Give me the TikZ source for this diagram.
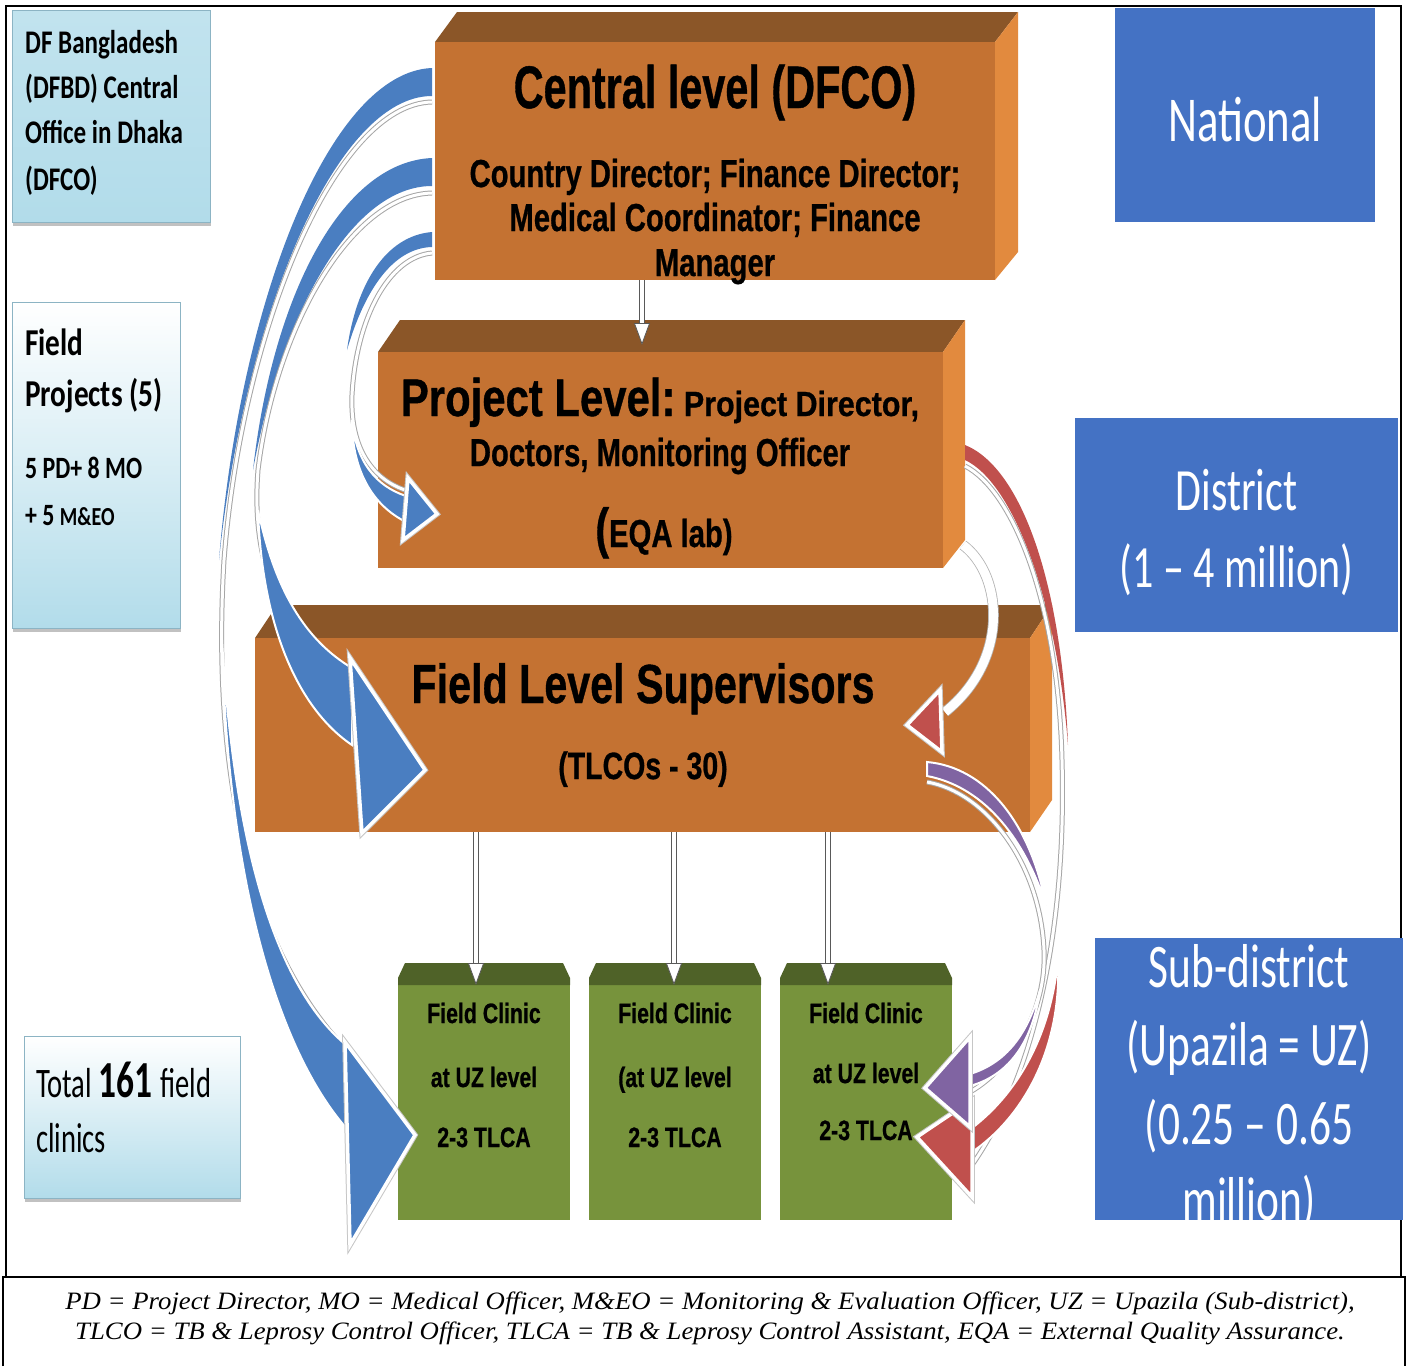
\documentclass[tikz,border=0pt]{standalone}
\usepackage{fontspec}
\setmainfont{Liberation Serif}
\newfontfamily\boxfont[BoldFeatures={FakeBold=0.8}]{Liberation Sans}
\newfontfamily\calfont{Carlito}
\usetikzlibrary{arrows.meta,positioning,shadows}

\definecolor{brickface}{RGB}{196,114,50}
\definecolor{bricktop}{RGB}{139,86,40}
\definecolor{brickside}{RGB}{226,138,62}
\definecolor{clinicface}{RGB}{119,147,60}
\definecolor{clinictop}{RGB}{79,98,40}
\definecolor{levelblue}{RGB}{68,114,196}
\definecolor{noteblue}{RGB}{178,220,234}
\definecolor{noteedge}{RGB}{140,180,196}
\definecolor{ribbonblue}{RGB}{74,126,193}
\definecolor{ribbonred}{RGB}{192,80,77}
\definecolor{ribbonpurple}{RGB}{128,100,162}

\newcommand{\hsq}[2]{\scalebox{#1}[1]{#2}}
\newcommand{\fsz}[1]{\fontsize{#1pt}{#1pt}\selectfont}

\begin{document}
\begin{tikzpicture}[x=1pt, y=-1pt,
    face/.style={fill=brickface, inner sep=0pt},
    clinic/.style={fill=clinicface, inner sep=0pt, minimum width=172pt, minimum height=242pt},
    level/.style={fill=levelblue, inner sep=0pt},
    note/.style={draw=noteedge, line width=0.8pt, top color=white, bottom color=noteblue, inner sep=0pt,
      drop shadow={shadow xshift=1pt, shadow yshift=-4pt, fill=gray!60, opacity=0.8}},
    brick/.style={anchor=base, inner sep=0pt, font=\boxfont\bfseries},
    leveltext/.style={anchor=base, inner sep=0pt, font=\calfont, text=white},
    notetext/.style={anchor=base west, inner sep=0pt, font=\calfont},
    band/.style={draw=white, line width=2pt},
    stripe/.style={draw=gray!70, line width=1pt, double=white, double distance=3pt},
    head/.style={draw=white, line width=3.5pt, line join=miter, preaction={draw=gray!45, line width=5.5pt}},
    blockarrow/.style={draw=gray!70!black, line width=0.8pt, double=white, double distance=4.5pt,
      -{Triangle[fill=white, length=22pt, width=16pt]}}]
  \useasboundingbox (0,0) rectangle (1408,1366);
  \fill[white] (0,0) rectangle (1408,1366);

  % frame and caption box
  \draw[line width=1.6pt] (6,6) rectangle (1401,1277);
  \draw[line width=1.2pt] (3,1366) |- (1405,1277) -- (1405,1366);

  % left notes
  \node[note, top color=noteblue!80, minimum width=198pt, minimum height=212pt] (dfbd) at (111,116) {};
  \node[notetext] at (25,53) {\fsz{33}\bfseries\hsq{0.76}{DF Bangladesh}};
  \node[notetext] at (25,98) {\fsz{33}\bfseries\hsq{0.76}{(DFBD) Central}};
  \node[notetext] at (25,143) {\fsz{33}\bfseries\hsq{0.76}{Office in Dhaka}};
  \node[notetext] at (25,190) {\fsz{33}\bfseries\hsq{0.76}{(DFCO)}};

  \node[note, minimum width=168pt, minimum height=326pt] (fieldproj) at (96,465) {};
  \node[notetext] at (25,355) {\fsz{38}\bfseries\hsq{0.77}{Field}};
  \node[notetext] at (25,406) {\fsz{38}\bfseries\hsq{0.77}{Projects (5)}};
  \node[notetext] at (25,478) {\fsz{31}\bfseries\hsq{0.77}{5 PD+ 8 MO}};
  \node[notetext] at (25,525) {\bfseries\hsq{0.77}{\fsz{31}+ 5 \fsz{26}M\&EO}};

  \node[note, minimum width=216pt, minimum height=162pt] (totalclin) at (132,1117) {};
  \node[notetext] at (36,1097) {\hsq{0.68}{\fsz{42}Total \fsz{52}\bfseries 161 \fsz{42}\mdseries field}};
  \node[notetext] at (36,1152) {\fsz{42}\hsq{0.68}{clinics}};

  % level boxes
  \node[level, minimum width=260pt, minimum height=214pt] (national) at (1245,115) {};
  \node[leveltext] at (national |- 0,141) {\fsz{64}\hsq{0.70}{National}};
  \node[level, minimum width=323pt, minimum height=214pt] (district) at (1236.5,525) {};
  \node[leveltext] at (district |- 0,510) {\fsz{60}\hsq{0.70}{District}};
  \node[leveltext] at (district |- 0,587) {\fsz{60}\hsq{0.70}{(1 – 4 million)}};
  \node[level, minimum width=308pt, minimum height=282pt] (subdist) at (1249,1079) {};
  \node[leveltext] at (subdist |- 0,987) {\fsz{62}\hsq{0.70}{Sub-district}};
  \node[leveltext] at (subdist |- 0,1065) {\fsz{62}\hsq{0.70}{(Upazila = UZ)}};
  \node[leveltext] at (subdist |- 0,1144) {\fsz{62}\hsq{0.70}{(0.25 – 0.65}};
  \node[leveltext] at (subdist |- 0,1220) {\fsz{62}\hsq{0.70}{million)}};

  % central level
  \fill[bricktop] (435,42) -- (457,12) -- (1018,12) -- (995,42) -- cycle;
  \fill[brickside] (995,42) -- (1018,12) -- (1018,252) -- (995,280) -- cycle;
  \node[face, minimum width=560pt, minimum height=238pt] (central) at (715,161) {};
  \node[brick] at (715,108) {\fsz{60}\hsq{0.69}{Central level (DFCO)}};
  \node[brick] at (715,187) {\fsz{39}\hsq{0.75}{Country Director; Finance Director;}};
  \node[brick] at (715,231) {\fsz{39}\hsq{0.75}{Medical Coordinator; Finance}};
  \node[brick] at (715,276) {\fsz{39}\hsq{0.75}{Manager}};

  % project level
  \fill[bricktop] (378,352) -- (400,320) -- (965,320) -- (943,352) -- cycle;
  \fill[brickside] (943,352) -- (965,320) -- (965,540) -- (943,568) -- cycle;
  \node[face, minimum width=565pt, minimum height=216pt] (project) at (660.5,460) {};
  \node[brick] at (660,416) {\hsq{0.79}{\fsz{53}Project Level:}\hsq{0.87}{\fsz{35} Project Director,}};
  \node[brick] at (660,466) {\fsz{39}\hsq{0.75}{Doctors, Monitoring Officer}};
  \node[brick] at (664,547) {\hsq{0.75}{\fsz{55}(\fsz{39}EQA lab)}};

  % field level supervisors
  \fill[bricktop] (255,638) -- (277,605) -- (1052,605) -- (1030,638) -- cycle;
  \fill[brickside] (1030,638) -- (1052,605) -- (1052,800) -- (1030,832) -- cycle;
  \node[face, minimum width=775pt, minimum height=194pt] (supers) at (642.5,735) {};
  \node[brick] at (643,703) {\fsz{55}\hsq{0.75}{Field Level Supervisors}};
  \node[brick] at (643,779) {\fsz{38}\hsq{0.75}{(TLCOs - 30)}};

  % field clinics
  \foreach \cx/\nm in {484/clinicA, 675/clinicB, 866/clinicC} {
    \node[clinic] (\nm) at (\cx,1099) {};
    \fill[clinictop] ({\cx-86},985) -- ({\cx-86},978) -- ({\cx-79},963) -- ({\cx+79},963)
      -- ({\cx+86},978) -- ({\cx+86},985) -- cycle;
  }
  \node[brick] at (484,1023) {\fsz{28}\hsq{0.76}{Field Clinic}};
  \node[brick] at (484,1087) {\fsz{28}\hsq{0.76}{at UZ level}};
  \node[brick] at (484,1147) {\fsz{28}\hsq{0.76}{2-3 TLCA}};
  \node[brick] at (675,1023) {\fsz{28}\hsq{0.76}{Field Clinic}};
  \node[brick] at (675,1087) {\fsz{28}\hsq{0.76}{(at UZ level}};
  \node[brick] at (675,1147) {\fsz{28}\hsq{0.76}{2-3 TLCA}};
  \node[brick] at (866,1023) {\fsz{28}\hsq{0.76}{Field Clinic}};
  \node[brick] at (866,1083) {\fsz{28}\hsq{0.76}{at UZ level}};
  \node[brick] at (866,1140) {\fsz{28}\hsq{0.76}{2-3 TLCA}};

  % straight arrows
  \coordinate (colP) at (642,345);
  \coordinate (colA) at (476,985);
  \coordinate (colB) at (674,985);
  \coordinate (colC) at (828,985);
  \draw[blockarrow] (central.south -| colP) -- (colP);
  \draw[blockarrow] (supers.south -| colA) -- (colA);
  \draw[blockarrow] (supers.south -| colB) -- (colB);
  \draw[blockarrow] (supers.south -| colC) -- (colC);

  % blue ribbon: central to clinics
  \fill[ribbonblue] (432,68) .. controls (330,72) and (240,300) .. (219,560)
    .. controls (244,320) and (335,96) .. (432,96) -- cycle;
  \draw[stripe] (432,102) .. controls (335,104) and (242,330) .. (224,560)
    .. controls (212,760) and (245,940) .. (342,1045);
  \filldraw[ribbonblue, band] (222,640) .. controls (235,860) and (280,990) .. (346,1045)
    -- (348,1130) .. controls (285,1060) and (228,900) .. (222,640) -- cycle;
  \filldraw[head, fill=ribbonblue] (345,1042) -- (415,1135) -- (350,1245) -- cycle;

  % blue ribbon: central to supervisors
  \fill[ribbonblue] (432,158) .. controls (340,162) and (272,300) .. (253,470)
    .. controls (282,312) and (352,186) .. (432,186) -- cycle;
  \draw[stripe] (432,193) .. controls (350,195) and (275,330) .. (258,470)
    .. controls (250,570) and (285,640) .. (348,668);
  \filldraw[ribbonblue, band] (258,510) .. controls (275,590) and (305,640) .. (352,668)
    -- (352,745) .. controls (300,710) and (262,630) .. (258,510) -- cycle;
  \filldraw[head, fill=ribbonblue] (350,658) -- (425,770) -- (362,833) -- cycle;

  % blue ribbon: central to project
  \fill[ribbonblue] (432,232) .. controls (385,236) and (356,285) .. (347,350)
    .. controls (364,292) and (392,248) .. (432,247) -- cycle;
  \draw[stripe] (432,253) .. controls (388,257) and (356,320) .. (352,395)
    .. controls (350,445) and (370,478) .. (405,490);
  \filldraw[ribbonblue, band] (352,420) .. controls (356,462) and (376,486) .. (406,496)
    -- (406,522) .. controls (372,505) and (352,470) .. (352,420) -- cycle;
  \filldraw[head, fill=ribbonblue] (408,478) -- (437,514) -- (403,540) -- cycle;

  % red ribbon: project to clinics
  \fill[ribbonred] (965,445) .. controls (1022,468) and (1062,585) .. (1068,745)
    .. controls (1056,595) and (1012,482) .. (965,460) -- cycle;
  \draw[stripe] (965,466) .. controls (1012,490) and (1058,600) .. (1062,760)
    .. controls (1066,900) and (1045,1060) .. (972,1165);
  \filldraw[ribbonred, band] (1058,960) .. controls (1050,1040) and (1015,1095) .. (972,1128)
    -- (972,1152) .. controls (1022,1118) and (1062,1050) .. (1058,960) -- cycle;
  \filldraw[head, fill=ribbonred] (917,1137) -- (972,1100) -- (972,1197) -- cycle;

  % purple ribbon: supervisors to clinics
  \filldraw[ribbonpurple, band] (927,762) .. controls (985,767) and (1030,822) .. (1046,905)
    .. controls (1022,832) and (980,786) .. (927,776) -- cycle;
  \draw[stripe] (927,782) .. controls (985,792) and (1040,862) .. (1044,950)
    .. controls (1047,1010) and (1012,1068) .. (970,1092);
  \filldraw[ribbonpurple, band] (1040,990) .. controls (1026,1040) and (1002,1064) .. (970,1074)
    -- (970,1086) .. controls (1006,1076) and (1032,1046) .. (1040,990) -- cycle;
  \filldraw[head, fill=ribbonpurple] (925,1088) -- (970,1037) -- (970,1127) -- cycle;

  % white ribbon: project to supervisors
  \draw[draw=gray!60, line width=0.8pt, double=white, double distance=9pt]
    (963,545) .. controls (1003,575) and (1010,660) .. (945,712);
  \filldraw[head, fill=ribbonred] (907,725) -- (940,690) -- (942,752) -- cycle;

  % caption
  \node[anchor=base, inner sep=0pt, font=\itshape] (capA) at (710,1309)
    {\fsz{25}\hsq{1.07}{PD = Project Director, MO = Medical Officer, M\&EO = Monitoring \& Evaluation Officer, UZ = Upazila (Sub-district),}};
  \node[anchor=base, inner sep=0pt, font=\itshape] (capB) at (710,1339)
    {\fsz{25}\hsq{1.07}{TLCO = TB \& Leprosy Control Officer, TLCA = TB \& Leprosy Control Assistant, EQA = External Quality Assurance.}};
\end{tikzpicture}
\end{document}
